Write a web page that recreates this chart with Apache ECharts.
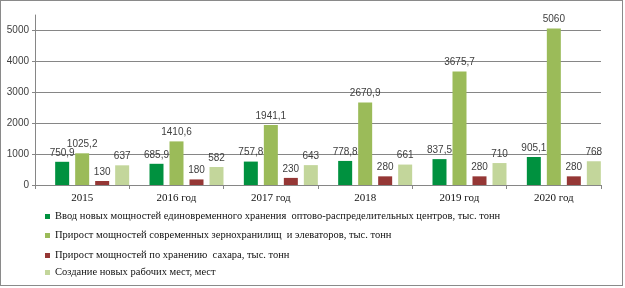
<!DOCTYPE html>
<html>
<head>
<meta charset="utf-8">
<script src="https://cdn.jsdelivr.net/npm/echarts@6/dist/echarts.min.js"></script>
<style>
  html, body { margin: 0; padding: 0; background: #fff; }
  #chart { width: 621px; height: 284px; border: 1.5px solid #8a8a8a; }
</style>
</head>
<body>
<div id="chart"></div>
<script>
const years = ['2015', '2016 год', '2017 год', '2018', '2019 год', '2020 год'];
const storageInput = [750.9, 685.9, 757.8, 778.8, 837.5, 905.1];
const grainGrowth = [1025.2, 1410.6, 1941.1, 2670.9, 3675.7, 5060];
const sugarGrowth = [130, 180, 230, 280, 280, 280];
const newJobs = [637, 582, 643, 661, 710, 768];

const names = [
    'Ввод новых мощностей единовременного хранения  оптово-распределительных центров, тыс. тонн',
    'Прирост мощностей современных зернохранилищ  и элеваторов, тыс. тонн',
    'Прирост мощностей по хранению  сахара, тыс. тонн',
    'Создание новых рабочих мест, мест'
];
const colors = ['#00913f', '#9bbb59', '#953735', '#c3d69b'];
const legendTops = [210, 229, 249, 266];
const serif = '"Liberation Serif", "DejaVu Serif", serif';

const chart = echarts.init(document.getElementById('chart'));

const label = {
    show: true,
    position: 'top',
    distance: 4,
    color: '#404040',
    fontFamily: 'Liberation Sans',
    fontSize: 10,
    formatter: p => String(p.value).replace('.', ',')
};

const bar = (i, data) => ({
    name: names[i],
    type: 'bar',
    data: data,
    barWidth: 14,
    barGap: '42.857%',
    itemStyle: {color: colors[i]},
    label: label
});

chart.setOption({
    animation: false,
    grid: {left: 34, right: 21, top: 14, bottom: 100},
    legend: names.map((n, i) => ({
        data: [n],
        orient: 'vertical',
        left: 44,
        top: legendTops[i],
        icon: 'rect',
        itemWidth: 5,
        itemHeight: 5,
        padding: 0,
        textStyle: {fontFamily: serif, fontSize: 10.5, color: '#111'}
    })),
    xAxis: {
        type: 'category',
        data: years,
        axisLine: {lineStyle: {color: '#868686', width: 1}},
        axisTick: {show: true, length: 4, lineStyle: {color: '#868686'}},
        axisLabel: {margin: 8, color: '#111', fontFamily: serif, fontSize: 11}
    },
    yAxis: {
        type: 'value',
        min: 0,
        max: 5500,
        interval: 1000,
        axisLine: {show: true, lineStyle: {color: '#868686', width: 1}},
        axisTick: {show: true, length: 3, lineStyle: {color: '#868686'}},
        axisLabel: {
            showMaxLabel: false, margin: 6, color: '#404040',
            fontFamily: 'Liberation Sans', fontSize: 10,
            formatter: v => String(v)
        },
        splitLine: {
            show: true,
            lineStyle: {
                color: ['#868686', '#868686', '#868686', '#868686', '#868686', '#868686', 'rgba(0,0,0,0)'],
                width: 1
            }
        }
    },
    series: [
        // empty slot so the bar groups sit right of centre, as in the original
        {name: 'pad', type: 'bar', data: [], barWidth: 14, barGap: '42.857%'},
        bar(0, storageInput),
        bar(1, grainGrowth),
        bar(2, sugarGrowth),
        bar(3, newJobs)
    ]
});
</script>
</body>
</html>
